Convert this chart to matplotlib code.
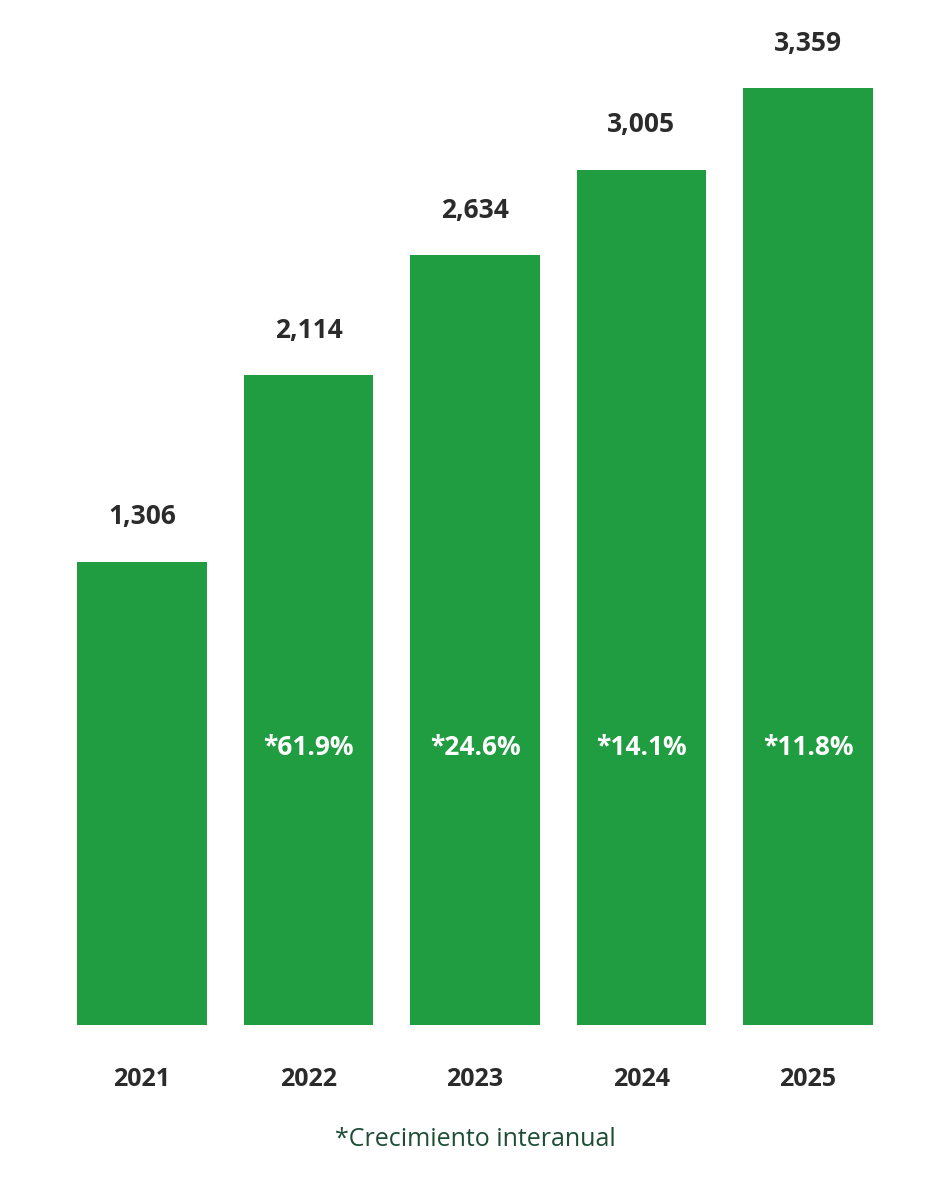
import matplotlib
matplotlib.use("Agg")
import matplotlib.pyplot as plt
import numpy as np

years = ["2021", "2022", "2023", "2024", "2025"]
values = [1306, 2114, 2634, 3005, 3359]
growth = ["", "*61.9%", "*24.6%", "*14.1%", "*11.8%"]
footnote = "*Crecimiento interanual"

plt.rcParams['font.family'] = ['Open Sans', 'DejaVu Sans']
fig = plt.figure(figsize=(9.52, 11.8), dpi=100)
ax = fig.add_axes([0, 0, 1, 1])
base = -700
s = 0.2308
xs = np.arange(len(years))
ax.bar(xs, np.array(values) - base, bottom=base, width=0.78, color="#1f9d40")
ax.set_xlim(-0.853, 4.865)
ax.set_ylim(-1372, 3741)
ax.axis("off")
for x, v, g, y in zip(xs, values, growth, years):
    ax.text(x, v + 45 / s, f"{v:,}", ha="center", va="center", fontsize=19,
            fontweight="bold", color="#2b2b2b")
    if g:
        ax.text(x, base + (1025 - 748) / s, g, ha="center", va="center",
                fontsize=19, fontweight="bold", color="white")
    ax.text(x, base - 55 / s, y, ha="center", va="center", fontsize=18,
            fontweight="bold", color="#2b2b2b")
ax.text(2, base - 115 / s, footnote, ha="center", va="center",
        fontsize=18, color="#1d4d35")
fig.savefig("out.png", dpi=100)
